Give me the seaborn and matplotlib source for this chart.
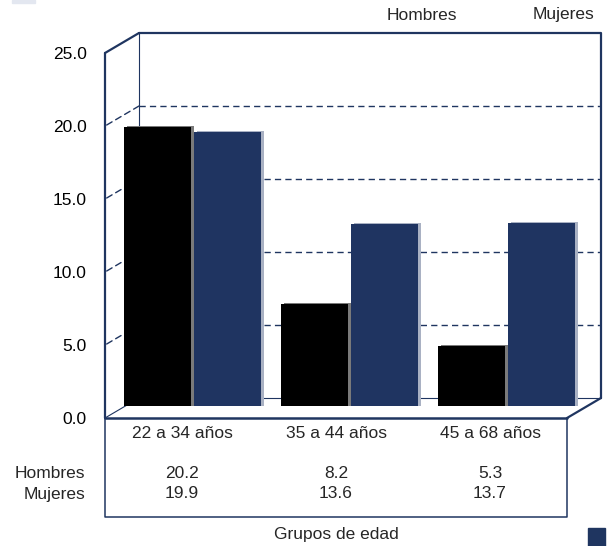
import matplotlib.pyplot as plt
import matplotlib.transforms as mtransforms
import pandas as pd
import seaborn as sns

grupos = ['22 a 34 años', '35 a 44 años', '45 a 68 años']
hombres = [20.2, 8.2, 5.3]
mujeres = [19.9, 13.6, 13.7]
series = ['Hombres', 'Mujeres']
yticks = [0, 5, 10, 15, 20, 25]

NAVY = '#1f3560'
BAR_COLORS = ['#000000', '#1f3461']
SIDE_COLORS = ['#7a7a7a', '#a9b1c3']
FS = 12.5

W, H, DPI = 607, 546, 100


def px_box(left, top, right, bottom):
    """Pixel box (image coords) -> figure fraction rect."""
    return [left / W, 1 - bottom / H, (right - left) / W, (bottom - top) / H]


sns.set_theme(style='white')
plt.rcParams['font.family'] = ['Liberation Sans', 'DejaVu Sans']

df = pd.DataFrame({
    'grupo': grupos * 2,
    'sexo': [series[0]] * 3 + [series[1]] * 3,
    'valor': hombres + mujeres,
})

fig = plt.figure(figsize=(W / DPI, H / DPI), dpi=DPI)

# front plane of the 3-D box: carries the value scale and the table
ax = fig.add_axes(px_box(105, 53, 567, 418))
ax.set_xlim(-0.5, 2.5)
ax.set_ylim(0, 25)
ax.patch.set_alpha(0)
for s in ax.spines.values():
    s.set_visible(False)
ax.set_xticks([])
ax.set_yticks(yticks, [f'{v:.1f}' for v in yticks])
ax.tick_params(axis='y', length=0, pad=13, labelsize=FS, labelcolor='black')

# back wall = front plane pushed 34 px right / 20 px up
depth = (34, 20)
back = ax.transData + mtransforms.ScaledTranslation(
    depth[0] / DPI, depth[1] / DPI, fig.dpi_scale_trans)


def depth_edge(x, y, lw=1.0, ls='-'):
    ax.annotate('', xy=(x, y), xytext=depth, textcoords='offset pixels',
                arrowprops=dict(arrowstyle='-', color=NAVY, lw=lw, ls=ls,
                                shrinkA=0, shrinkB=0), annotation_clip=False)


for v in yticks[1:-1]:
    ax.plot([-0.5, 2.5], [v, v], transform=back, color=NAVY, lw=1,
            ls=(0, (4.5, 3)), clip_on=False)
    depth_edge(-0.5, v, lw=1, ls=(0, (4.5, 3)))

ax.plot([-0.5, -0.5], [0, 25], transform=back, color=NAVY, lw=0.8, clip_on=False)
ax.plot([-0.5, 2.5], [0, 0], transform=back, color=NAVY, lw=0.8, clip_on=False)
ax.plot([-0.5, 2.5, 2.5], [25, 25, 0], transform=back, color=NAVY, lw=1.6,
        clip_on=False)
depth_edge(-0.5, 25, lw=1.6)
depth_edge(-0.5, 0, lw=0.8)
depth_edge(2.5, 0, lw=1.6)
ax.plot([-0.5, -0.5], [25, 0], color=NAVY, lw=1.6, clip_on=False)

# data table under the box
tbl = mtransforms.blended_transform_factory(ax.transData, ax.transAxes)
tbl_bottom = -99 / 365
ax.plot([-0.5, 2.5], [0, 0], transform=tbl, color=NAVY, lw=1.8, clip_on=False)
ax.plot([-0.5, -0.5, 2.5, 2.5], [0, tbl_bottom, tbl_bottom, 0], transform=tbl,
        color=NAVY, lw=1.1, clip_on=False)
row_y = [-55 / 365, -76 / 365]
for i, g in enumerate(grupos):
    ax.text(i, -15 / 365, g, transform=tbl, ha='center', va='center', fontsize=FS)
    ax.text(i, row_y[0], f'{hombres[i]:.1f}', transform=tbl, ha='center',
            va='center', fontsize=FS)
    ax.text(i, row_y[1], f'{mujeres[i]:.1f}', transform=tbl, ha='center',
            va='center', fontsize=FS)
for name, y in zip(series, row_y):
    ax.annotate(name, xy=(0, y), xycoords='axes fraction', xytext=(-20, 0),
                textcoords='offset pixels', ha='right', va='center', fontsize=FS)
ax.text(1, -117 / 365, 'Grupos de edad', transform=tbl, ha='center',
        va='center', fontsize=FS)

# bar plane, sitting half-way into the box; bases hidden under the floor
bax = fig.add_axes(px_box(114, 57, 585, 406))
bax.patch.set_alpha(0)
sns.barplot(data=df, x='grupo', y='valor', hue='sexo', palette=SIDE_COLORS,
            width=0.9, gap=0.05, legend=False, linewidth=0, saturation=1, ax=bax)
# side faces: same bars nudged 3 px right, 1 px up
shift = mtransforms.ScaledTranslation(3 / DPI, 1 / DPI, fig.dpi_scale_trans)
for p in bax.patches:
    p.set_transform(bax.transData + shift)
sns.barplot(data=df, x='grupo', y='valor', hue='sexo', palette=BAR_COLORS,
            width=0.9, gap=0.05, legend=False, linewidth=0, saturation=1, ax=bax)
bax.set_xlim(-0.5, 2.5)
bax.set_ylim(18 / 14.67, 25)
bax.axis('off')

# legend labels (keys are not shown in the original)
fig.text(422 / W, 1 - 15 / H, series[0], ha='center', va='center', fontsize=FS)
fig.text(564 / W, 1 - 15 / H, series[1], ha='center', va='center', fontsize=FS)
fig.patches.append(plt.Rectangle((12 / W, 1 - 3 / H), 23 / W, 3 / H,
                                 transform=fig.transFigure, color='#e3e7f0'))
fig.patches.append(plt.Rectangle((588 / W, 0), 17 / W, 18 / H,
                                 transform=fig.transFigure, color=NAVY))

fig.savefig('out.png', dpi=DPI)
